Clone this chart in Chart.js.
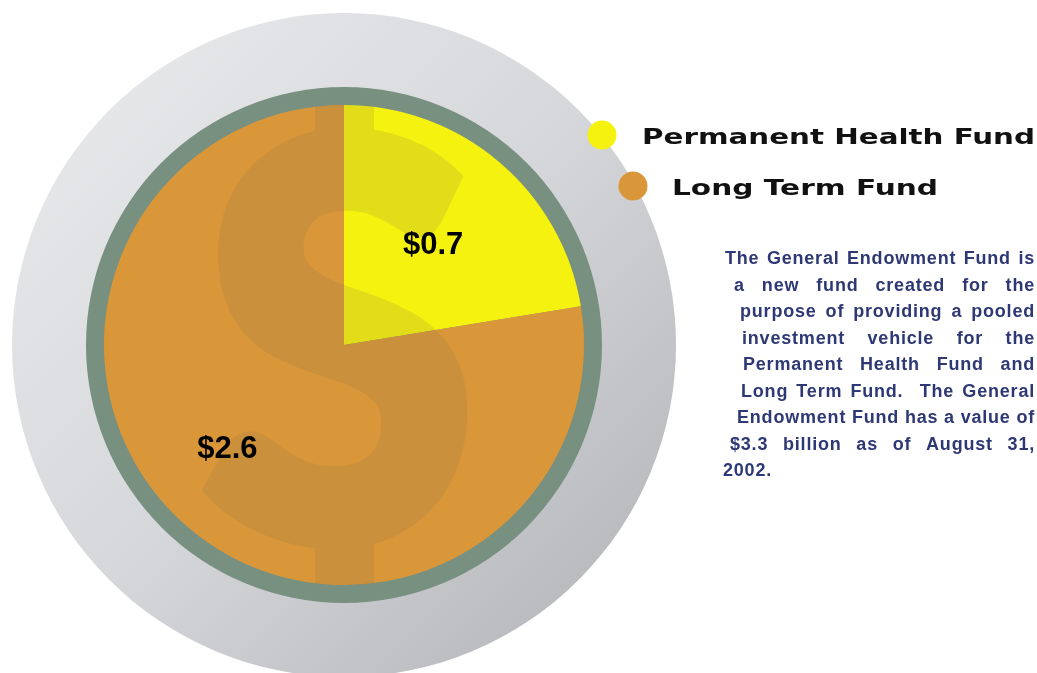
<!DOCTYPE html>
<html>
<head>
<meta charset="utf-8">
<script src="https://cdn.jsdelivr.net/npm/chart.js@4"></script>
<style>
  html, body { margin: 0; padding: 0; background: #ffffff; }
  #wrap { width: 1037px; height: 673px; position: relative; }
</style>
</head>
<body>
<div id="wrap"><canvas id="fundChart" width="1037" height="673"></canvas></div>
<script>
// data (billions of dollars)
const funds = ['Permanent Health Fund', 'Long Term Fund'];
const values = [0.74, 2.56];
const fundColors = ['#F5F210', '#DA973A'];

const noteLines = [
    'The General Endowment Fund is',
    'a new fund created for the',
    'purpose of providing a pooled',
    'investment vehicle for the',
    'Permanent Health Fund and',
    'Long Term Fund.  The General',
    'Endowment Fund has a value of',
    '$3.3 billion as of August 31,',
    '2002.'
];

// left edge of each note line, right edge is shared
const noteLeft = [725, 734, 740, 742, 743, 741, 737, 730, 723];

// draws the big "$" watermark on its own canvas so overlaps don't double up
function dollarMark(cx, cy, r) {
    const off = document.createElement('canvas');
    off.width = 1037;
    off.height = 673;
    const o = off.getContext('2d');
    o.fillStyle = '#000';
    o.strokeStyle = '#000';
    o.font = '900 500px Lato, "Liberation Sans", sans-serif';
    o.textBaseline = 'alphabetic';
    o.textAlign = 'left';
    const m = o.measureText('S');
    const gw = m.actualBoundingBoxLeft + m.actualBoundingBoxRight;
    const gh = m.actualBoundingBoxAscent + m.actualBoundingBoxDescent;
    // box the S should fill (stroke adds weight around the glyph)
    const lw = 16;
    const box = { x0: cx - 142 + lw / 2, x1: cx + 130 - lw / 2, y0: cy - 217 + lw / 2, y1: cy + 208 - lw / 2 };
    o.save();
    o.translate(box.x0, box.y0);
    o.scale((box.x1 - box.x0) / gw, (box.y1 - box.y0) / gh);
    o.lineWidth = lw * gw / (box.x1 - box.x0);
    o.lineJoin = 'miter';
    o.fillText('S', m.actualBoundingBoxLeft, m.actualBoundingBoxAscent);
    o.strokeText('S', m.actualBoundingBoxLeft, m.actualBoundingBoxAscent);
    o.restore();
    // bars top and bottom
    o.fillRect(cx - 29, cy - r - 5, 59, 55);
    o.fillRect(cx - 29, cy + r - 60, 59, 70);
    // keep only the part inside the pie
    o.globalCompositeOperation = 'destination-in';
    o.beginPath();
    o.arc(cx, cy, r, 0, Math.PI * 2);
    o.fill();
    // tint
    o.globalCompositeOperation = 'source-in';
    o.fillStyle = 'rgb(130, 110, 75)';
    o.fillRect(0, 0, off.width, off.height);
    return off;
}

const decorPlugin = {
    id: 'decor',
    beforeDatasetsDraw(chart) {
        const ctx = chart.ctx;
        const arc = chart.getDatasetMeta(0).data[0];
        const cx = arc.x, cy = arc.y, r = arc.outerRadius;

        // gray disc behind everything
        ctx.save();
        const g = ctx.createLinearGradient(cx - 300, cy - 300, cx + 300, cy + 300);
        g.addColorStop(0, '#E9EAEC');
        g.addColorStop(0.5, '#D6D7DA');
        g.addColorStop(1, '#B3B4B8');
        ctx.fillStyle = g;
        ctx.beginPath();
        ctx.arc(cx, cy, r + 92, 0, Math.PI * 2);
        ctx.fill();

        // green ring
        ctx.fillStyle = '#78907F';
        ctx.beginPath();
        ctx.arc(cx, cy, r + 18, 0, Math.PI * 2);
        ctx.fill();
        ctx.restore();
    },
    afterDatasetsDraw(chart) {
        const ctx = chart.ctx;
        const meta = chart.getDatasetMeta(0);
        const arc = meta.data[0];
        const cx = arc.x, cy = arc.y, r = arc.outerRadius;

        ctx.save();
        ctx.globalAlpha = 0.16;
        ctx.drawImage(dollarMark(cx, cy, r), 0, 0);
        ctx.restore();

        // value labels
        const labelPos = [
            { frac: 0.56, shift: 0.02 },
            { frac: 0.65, shift: 0.14 }
        ];
        ctx.save();
        ctx.fillStyle = '#000000';
        ctx.font = 'bold 31px "Liberation Sans", Arial, sans-serif';
        ctx.textAlign = 'center';
        ctx.textBaseline = 'middle';
        meta.data.forEach((el, i) => {
            const mid = (el.startAngle + el.endAngle) / 2 + labelPos[i].shift;
            const d = el.outerRadius * labelPos[i].frac;
            ctx.fillText('$' + values[i].toFixed(1), el.x + Math.cos(mid) * d, el.y + Math.sin(mid) * d + 1);
        });
        ctx.restore();

        // legend with stretched heavy lettering
        const legendSpots = [
            { dotX: 602, dotY: 135, textX: 642, baseY: 144, width: 393 },
            { dotX: 633, dotY: 186, textX: 672, baseY: 195, width: 266 }
        ];
        ctx.save();
        ctx.font = 'bold 22px "DejaVu Sans", sans-serif';
        ctx.textBaseline = 'alphabetic';
        ctx.textAlign = 'left';
        funds.forEach((name, i) => {
            const s = legendSpots[i];
            ctx.fillStyle = fundColors[i];
            ctx.beginPath();
            ctx.arc(s.dotX, s.dotY, 14.5, 0, Math.PI * 2);
            ctx.fill();

            const w = ctx.measureText(name).width;
            ctx.save();
            ctx.translate(s.textX, s.baseY);
            ctx.scale(s.width / w, 1);
            ctx.fillStyle = '#111111';
            ctx.fillText(name, 0, 0);
            ctx.restore();
        });
        ctx.restore();

        // justified note on the right
        ctx.save();
        ctx.fillStyle = '#2D3875';
        ctx.font = 'bold 18px "Liberation Sans", Arial, sans-serif';
        ctx.letterSpacing = '0.8px';
        ctx.textBaseline = 'alphabetic';
        ctx.textAlign = 'left';
        const right = 1035;
        noteLines.forEach((line, i) => {
            const y = 264 + i * 26.5;
            const x0 = noteLeft[i];
            if (i === noteLines.length - 1) {
                ctx.fillText(line, x0, y);
                return;
            }
            const words = line.split(' ');
            const textW = words.reduce((s, w) => s + ctx.measureText(w).width, 0);
            const gap = (right - x0 - textW) / (words.length - 1);
            let x = x0;
            words.forEach(w => {
                ctx.fillText(w, x, y);
                x += ctx.measureText(w).width + gap;
            });
        });
        ctx.restore();
    }
};

const ctx = document.getElementById('fundChart').getContext('2d');
new Chart(ctx, {
    type: 'pie',
    data: {
        labels: funds,
        datasets: [{
            data: values,
            backgroundColor: fundColors,
            borderWidth: 0,
            hoverOffset: 0
        }]
    },
    options: {
        responsive: false,
        animation: false,
        layout: { padding: { left: 104, top: 105, right: 453, bottom: 88 } },
        plugins: {
            legend: { display: false },
            tooltip: { enabled: false }
        }
    },
    plugins: [decorPlugin]
});
</script>
</body>
</html>
